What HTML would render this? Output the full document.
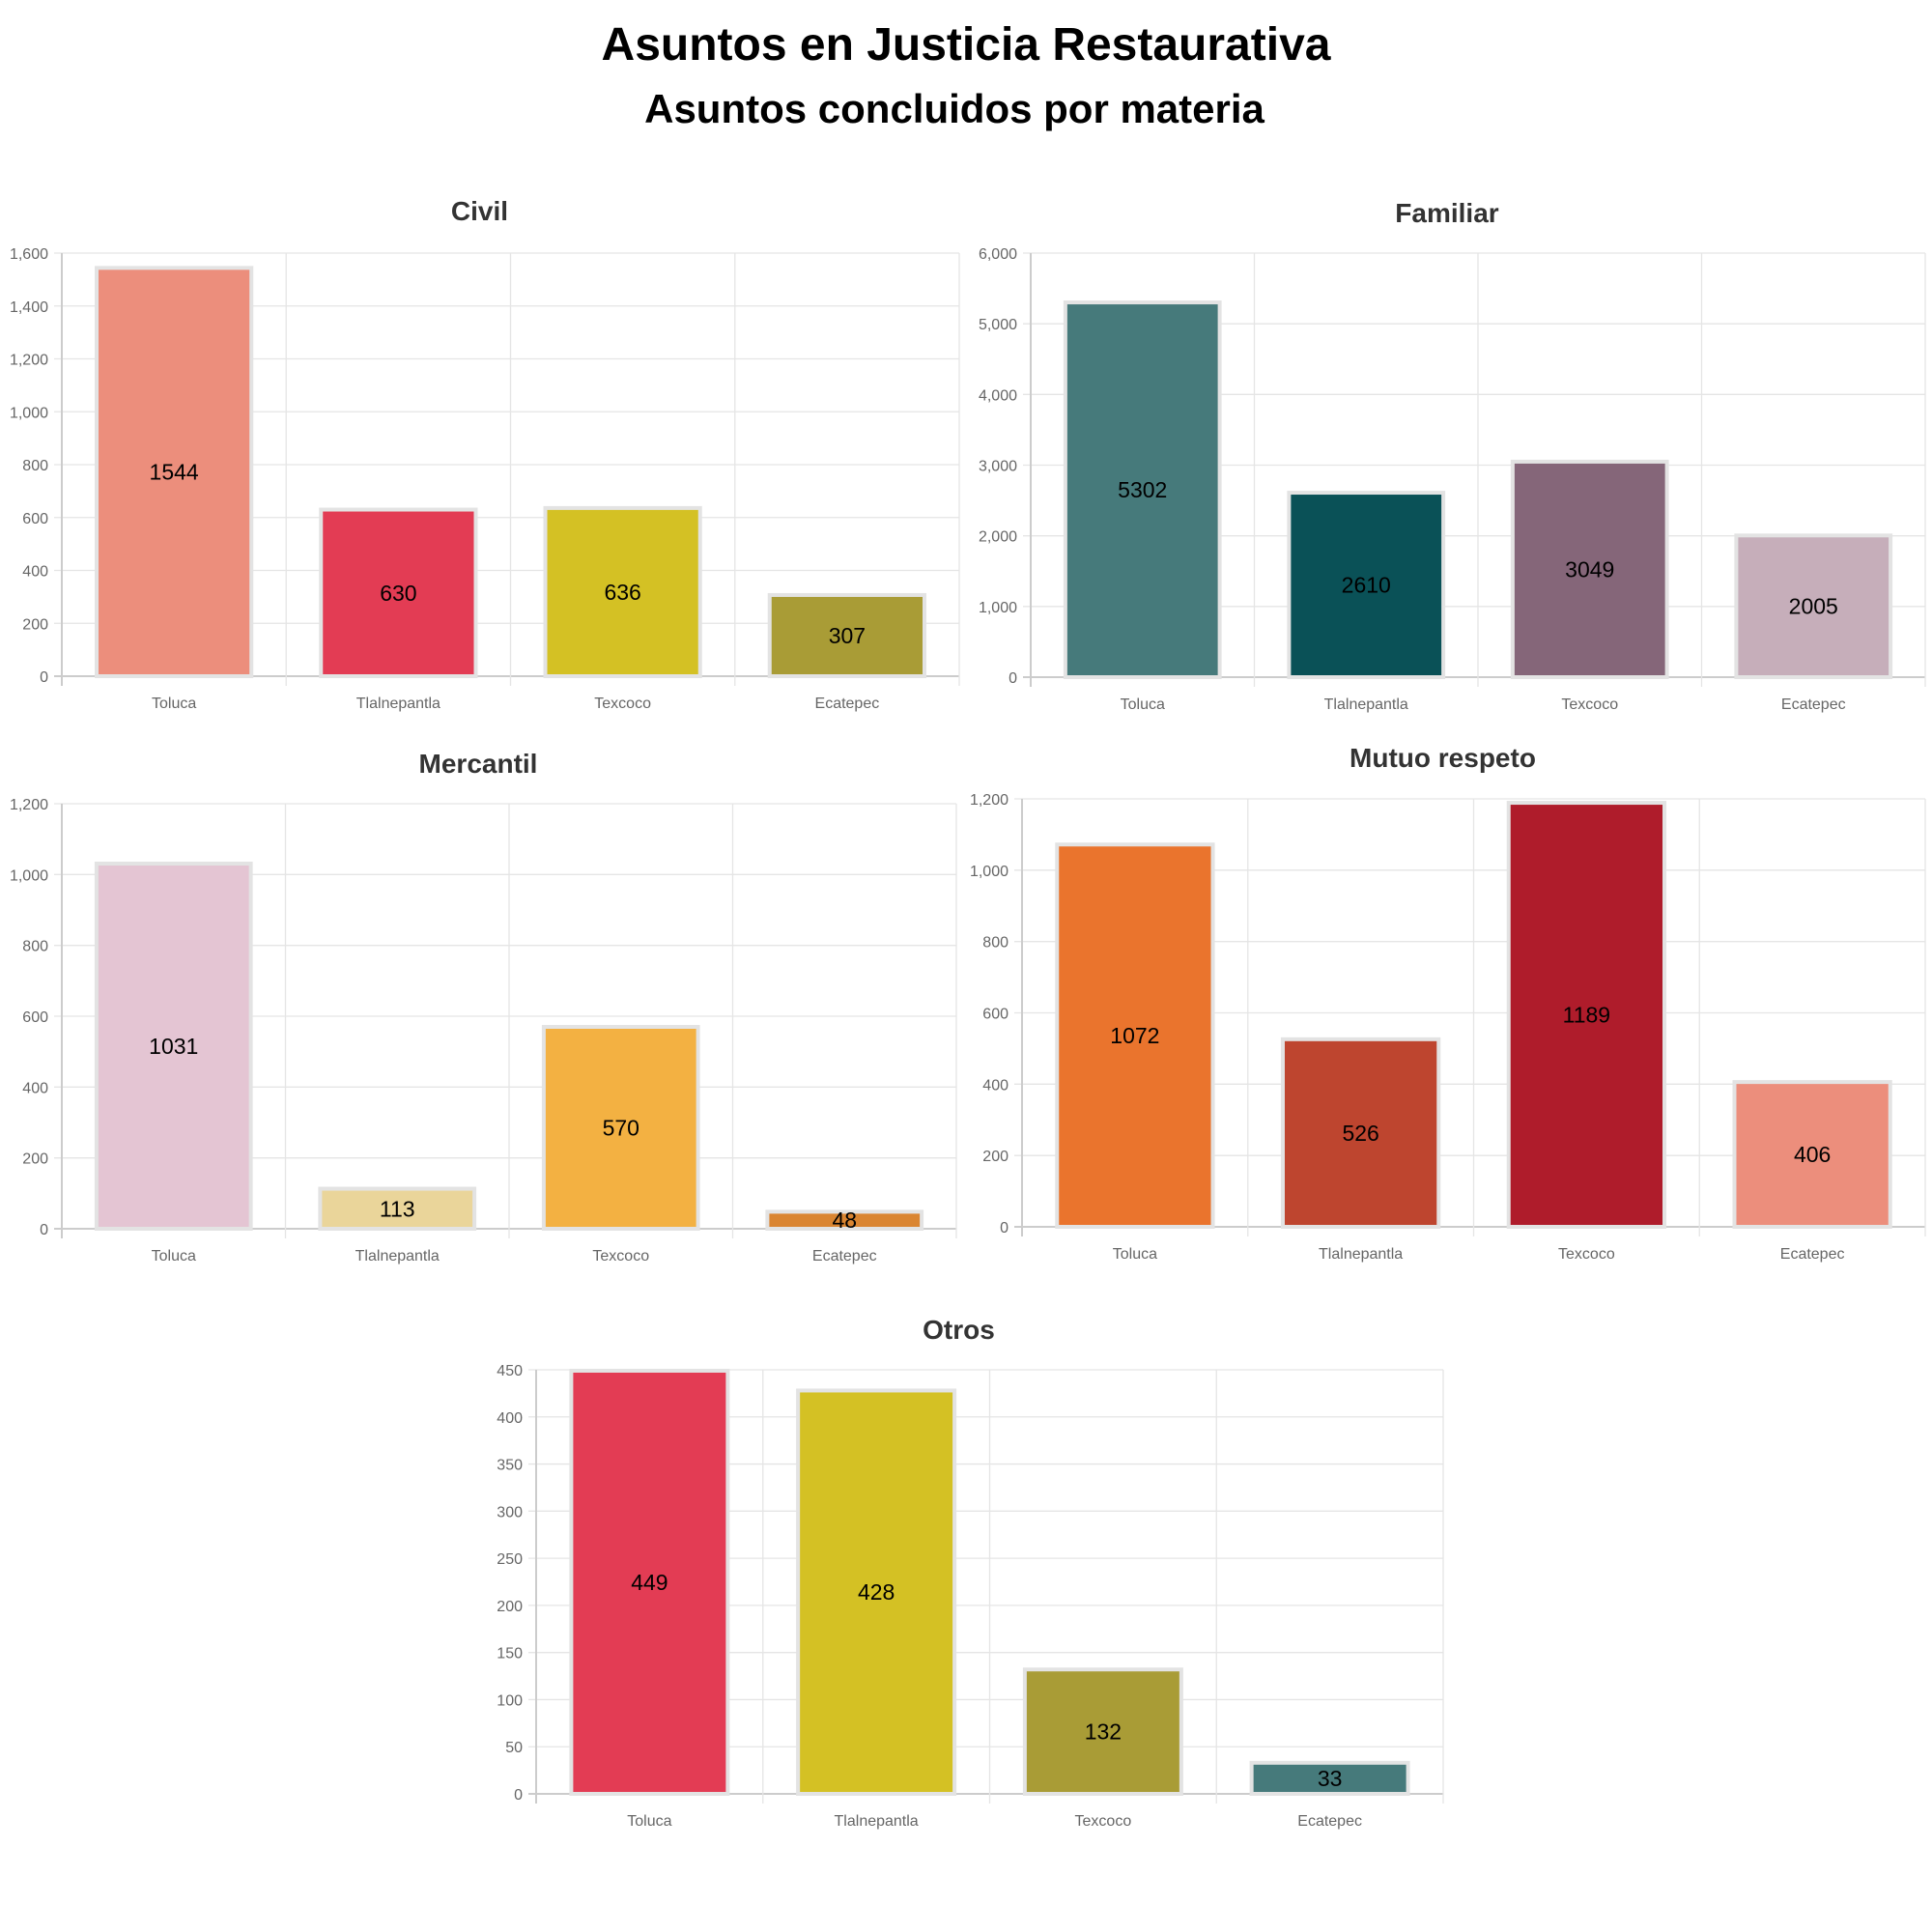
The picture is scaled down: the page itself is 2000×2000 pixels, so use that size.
<!DOCTYPE html>
<html><head><meta charset="utf-8"><style>
html,body{margin:0;padding:0;background:#fff;}
svg{display:block;font-family:"Liberation Sans",Arial,sans-serif;}
</style></head><body>
<svg id="s" width="2000" height="2000" viewBox="0 0 2000 2000">
<text x="1000" y="62" text-anchor="middle" font-size="48" font-weight="bold" fill="#000">Asuntos en Justicia Restaurativa</text>
<text x="988" y="127" text-anchor="middle" font-size="42" font-weight="bold" fill="#000">Asuntos concluidos por materia</text>
</svg>
<script>
const categories = ["Toluca","Tlalnepantla","Texcoco","Ecatepec"];
const civilValues = [1544,630,636,307];
const familiarValues = [5302,2610,3049,2005];
const mercantilValues = [1031,113,570,48];
const mutuoValues = [1072,526,1189,406];
const otrosValues = [449,428,132,33];
const civilTicks = [0,200,400,600,800,1000,1200,1400,1600];
const familiarTicks = [0,1000,2000,3000,4000,5000,6000];
const mercantilTicks = [0,200,400,600,800,1000,1200];
const mutuoTicks = [0,200,400,600,800,1000,1200];
const otrosTicks = [0,50,100,150,200,250,300,350,400,450];

const NS="http://www.w3.org/2000/svg";
const svg=document.getElementById('s');
function mk(tag,attrs,parent){const e=document.createElementNS(NS,tag);for(const k in attrs)e.setAttribute(k,attrs[k]);(parent||svg).appendChild(e);return e;}
function fmt(v){return v.toLocaleString('en-US');}

function chart(name,title,values,ticks,colors,L,R,T,B,titleY){
  const g=mk('g',{});
  
  
  const maxV=ticks[ticks.length-1];
  const y=v=>B-(v/maxV)*(B-T);
  const bw=(R-L)/categories.length;
  const x=i=>L+bw*i;
  const t=mk('text',{x:(L+R)/2-32,y:titleY,'text-anchor':'middle','font-size':28,'font-weight':'bold',fill:'#333'},g);
  t.textContent=title;
  
  
  ticks.forEach(tv=>{
    const gl=mk('line',{x1:L-8,x2:R,y1:y(tv),y2:y(tv),stroke:tv===0?'#ccc':'#e5e5e5','stroke-width':tv===0?2:1.3},g);
    
    
    const tl=mk('text',{x:L-14,y:y(tv)+6,'text-anchor':'end','font-size':16,fill:'#666'},g);
    tl.textContent=fmt(tv);
    
    
  });
  for(let i=0;i<=categories.length;i++){
    const vl=mk('line',{x1:x(i),x2:x(i),y1:T,y2:B+10,stroke:i===0?'#ccc':'#e5e5e5','stroke-width':i===0?2:1.3},g);
    
    
  }
  values.forEach((v,i)=>{
    const w=bw*0.69;
    const cx=x(i)+bw/2;
    const r=mk('rect',{x:cx-w/2,y:y(v),width:w,height:B-y(v),fill:colors[i],stroke:'#e3e3e3','stroke-width':4},g);
    
    
    const vt=mk('text',{x:cx,y:(y(v)+B)/2+8,'text-anchor':'middle','font-size':23,fill:'#000'},g);
    vt.textContent=v;
    
    
    const xl=mk('text',{x:cx,y:B+33,'text-anchor':'middle','font-size':16,fill:'#666'},g);
    xl.textContent=categories[i];
    
    
  });
}
chart('civil','Civil',civilValues,civilTicks,['#EC8E7C','#E33C54','#D4C124','#A99C36'],64,993,262,700,228);
chart('familiar','Familiar',familiarValues,familiarTicks,['#467A7B','#0A5157','#856679','#C6AEBA'],1067,1993,262,701,230);
chart('mercantil','Mercantil',mercantilValues,mercantilTicks,['#E4C5D3','#EAD59A','#F3B142','#DA8531'],64,990,832,1272,800);
chart('mutuo','Mutuo respeto',mutuoValues,mutuoTicks,['#EA742D','#BE452F','#AF1C2B','#EC8E7C'],1058,1993,827,1270,794);
chart('otros','Otros',otrosValues,otrosTicks,['#E33C54','#D4C124','#A99C36','#467A7B'],555,1494,1418,1857,1386);
</script>
</body></html>
